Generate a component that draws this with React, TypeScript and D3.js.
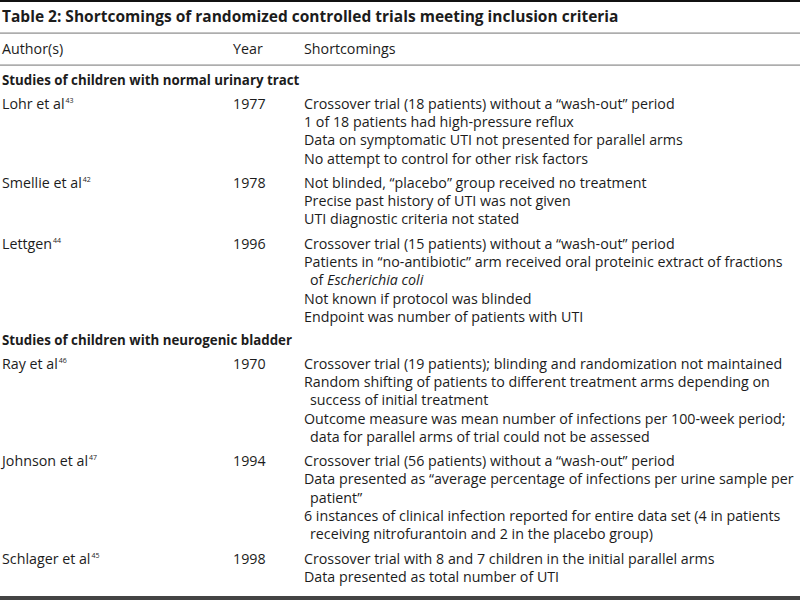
import * as d3 from "d3";

const tableTitle = "Table 2: Shortcomings of randomized controlled trials meeting inclusion criteria";
const columnHeaders = ["Author(s)", "Year", "Shortcomings"];
const sectionTitles = [
  "Studies of children with normal urinary tract",
  "Studies of children with neurogenic bladder",
];
const authors = ["Lohr et al", "Smellie et al", "Lettgen", "Ray et al", "Johnson et al", "Schlager et al"];
const refNumbers = ["43", "42", "44", "46", "47", "45"];
const years = ["1977", "1978", "1996", "1970", "1994", "1998"];
const studySection = [0, 0, 0, 1, 1, 1];
// each study: list of shortcomings, each one split into its printed lines; _x_ = italic
const shortcomings: string[][][] = [
  [
    ["Crossover trial (18 patients) without a \u201cwash-out\u201d period"],
    ["1 of 18 patients had high-pressure reflux"],
    ["Data on symptomatic UTI not presented for parallel arms"],
    ["No attempt to control for other risk factors"],
  ],
  [
    ["Not blinded, \u201cplacebo\u201d group received no treatment"],
    ["Precise past history of UTI was not given"],
    ["UTI diagnostic criteria not stated"],
  ],
  [
    ["Crossover trial (15 patients) without a \u201cwash-out\u201d period"],
    ["Patients in \u201cno-antibiotic\u201d arm received oral proteinic extract of fractions", "of _Escherichia coli_"],
    ["Not known if protocol was blinded"],
    ["Endpoint was number of patients with UTI"],
  ],
  [
    ["Crossover trial (19 patients); blinding and randomization not maintained"],
    ["Random shifting of patients to different treatment arms depending on", "success of initial treatment"],
    ["Outcome measure was mean number of infections per 100-week period;", "data for parallel arms of trial could not be assessed"],
  ],
  [
    ["Crossover trial (56 patients) without a \u201cwash-out\u201d period"],
    ["Data presented as \u201caverage percentage of infections per urine sample per", "patient\u201d"],
    ["6 instances of clinical infection reported for entire data set (4 in patients", "receiving nitrofurantoin and 2 in the placebo group)"],
  ],
  [
    ["Crossover trial with 8 and 7 children in the initial parallel arms"],
    ["Data presented as total number of UTI"],
  ],
];

const width = 800;
const height = 600;
const font = "'Open Sans', Lato, sans-serif";
const ink = "#1c1c1c";
const colX = [2, 233, 304];
const indent = 6;
const lineStep = 18.3;
const groupGap = 24.2;
const bodySize = 14.25;

type Row =
  | { kind: "section"; y: number; text: string }
  | { kind: "line"; y: number; text: string; cont: boolean; study: number; first: boolean };

function buildRows(): Row[] {
  const rows: Row[] = [];
  let y = 85;
  let prevSection = -1;
  authors.forEach((_, i) => {
    if (studySection[i] !== prevSection) {
      if (prevSection >= 0) y += groupGap - 1;
      prevSection = studySection[i];
      rows.push({ kind: "section", y, text: sectionTitles[prevSection] });
      y += groupGap - 0.5;
    } else {
      y += groupGap;
    }
    let first = true;
    shortcomings[i].forEach((item) => {
      item.forEach((ln, k) => {
        rows.push({ kind: "line", y, text: ln, cont: k > 0, study: i, first });
        first = false;
        y += lineStep;
      });
    });
    y -= lineStep;
  });
  return rows;
}

function renderRich(text: string) {
  const parts = text.split("_");
  return parts.map((p, i) => (
    <tspan key={i} fontStyle={i % 2 === 1 ? "italic" : "normal"}>
      {p}
    </tspan>
  ));
}

export default function App() {
  const rows = buildRows();
  const x = d3.scaleOrdinal<string, number>().domain(columnHeaders).range(colX);
  return (
    <svg
      width={width}
      height={height}
      style={{ position: "absolute", left: 0, top: 0, background: "#fff" }}
      fontFamily={font}
    >
      <rect x={0} y={0} width={width} height={height} fill="#fff" />
      <rect x={0} y={0} width={width} height={2} fill="#111" />
      <text x={2} y={22} fontSize={15.5} fontWeight="bold" fill={ink}>
        {tableTitle}
      </text>
      <rect x={0} y={32.5} width={width} height={1.2} fill="#8a8a8a" />
      {columnHeaders.map((h) => (
        <text key={h} x={x(h)} y={54} fontSize={bodySize} fill={ink}>
          {h}
        </text>
      ))}
      <rect x={0} y={64.5} width={width} height={1.2} fill="#8a8a8a" />
      {rows.map((r, idx) =>
        r.kind === "section" ? (
          <text key={idx} x={colX[0]} y={r.y} fontSize={13.3} fontWeight="bold" fill={ink}>
            {r.text}
          </text>
        ) : (
          <g key={idx}>
            {r.first && (
              <>
                <text x={colX[0]} y={r.y} fontSize={bodySize} fill={ink}>
                  {authors[r.study]}
                  <tspan fontSize={7} dy={-6} dx={1}>
                    {refNumbers[r.study]}
                  </tspan>
                </text>
                <text x={colX[1]} y={r.y} fontSize={bodySize} fill={ink}>
                  {years[r.study]}
                </text>
              </>
            )}
            <text x={colX[2] + (r.cont ? indent : 0)} y={r.y} fontSize={bodySize} fill={ink}>
              {renderRich(r.text)}
            </text>
          </g>
        )
      )}
      <rect x={0} y={596} width={width} height={4} fill="#444" />
    </svg>
  );
}
